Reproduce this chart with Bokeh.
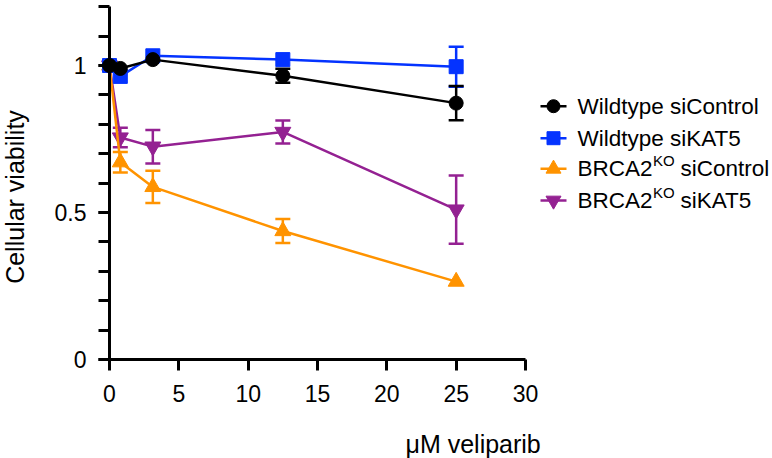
import math
from bokeh.plotting import figure
from bokeh.models import (ColumnDataSource, Range1d, FixedTicker, Whisker, TeeHead,
                          LinearAxis)
from bokeh.core.properties import value
from bokeh.embed import file_html
from bokeh.resources import INLINE

# ---------------- data ----------------
dose = [0, 0.78, 3.125, 12.5, 25]

wt_sicontrol = [1.00, 0.99, 1.02, 0.965, 0.872]
wt_sicontrol_err = [0.0, 0.0, 0.0, 0.024, 0.058]

wt_sikat5 = [1.00, 0.963, 1.033, 1.02, 0.996]
wt_sikat5_err = [0.0, 0.0, 0.0, 0.0, 0.068]

ko_sicontrol = [1.00, 0.671, 0.587, 0.437, 0.265]
ko_sicontrol_err = [0.0, 0.035, 0.055, 0.041, 0.0]

ko_sikat5 = [1.00, 0.755, 0.724, 0.774, 0.51]
ko_sikat5_err = [0.0, 0.033, 0.057, 0.039, 0.116]

series_base = ["Wildtype", "Wildtype", "BRCA2", "BRCA2"]
series_sup = ["", "", "KO", "KO"]
series_tail = ["siControl", "siKAT5", "siControl", "siKAT5"]

x_ticks = [0, 5, 10, 15, 20, 25, 30]
y_ticks = [0, 0.5, 1.0]
y_tick_labels = ["0", "0.5", "1"]
y_minor_ticks = [0, 0.1, 0.2, 0.3, 0.4, 0.5, 0.6, 0.7, 0.8, 0.9, 1.0, 1.1, 1.2]

x_title = "\u03bcM veliparib"
y_title = "Cellular viability"

# ---------------- style / layout ----------------
FONT = "Liberation Sans"
colors = ["#000000", "#0433FF", "#FF9300", "#942192"]
markers = ["circle", "square", "triangle", "inverted_triangle"]
msizes = [14, 14, 16, 16]
LW = 2.5

W, H = 772, 458
X0_PX, Y0_PX = 109, 359          # pixel position of the data origin
K = 416 / 30.0                    # pixels per x unit
KY = 294.0                        # pixels per y unit


def dx(px):
    return (px - X0_PX) / K


def dy(py):
    return (Y0_PX - py) / KY


p = figure(width=W, height=H,
           x_range=Range1d(dx(0), dx(W)),
           y_range=Range1d(dy(H), dy(0)),
           x_axis_location=None, y_axis_location=None,
           output_backend="svg", toolbar_location=None,
           min_border_left=0, min_border_right=0,
           min_border_top=0, min_border_bottom=0)
p.outline_line_color = None
p.xgrid.visible = False
p.ygrid.visible = False
p.background_fill_color = "white"
p.border_fill_color = "white"


def style_axis(ax):
    ax.axis_line_width = 3
    ax.axis_line_color = "black"
    ax.major_tick_line_width = 3
    ax.minor_tick_line_width = 3
    ax.major_tick_line_color = "black"
    ax.minor_tick_line_color = "black"
    ax.major_tick_out = 11
    ax.major_tick_in = 0
    ax.minor_tick_out = 11
    ax.minor_tick_in = 0
    ax.major_label_text_font = FONT
    ax.major_label_text_font_size = "23px"
    ax.major_label_text_color = "black"


xa = LinearAxis(fixed_location=0, bounds=(0, 30), ticker=FixedTicker(ticks=x_ticks))
style_axis(xa)
xa.major_label_standoff = 14
p.add_layout(xa, "below")

ya = LinearAxis(fixed_location=0, bounds=(0, 1.2),
                ticker=FixedTicker(ticks=y_ticks, minor_ticks=y_minor_ticks))
style_axis(ya)
ya.major_label_overrides = {t: l for t, l in zip(y_ticks, y_tick_labels)}
ya.major_label_standoff = 12
p.add_layout(ya, "left")

# axis titles
p.text(x=[dx(14.5)], y=[dy(196.5)], text=[y_title], angle=math.pi / 2,
       text_font=value(FONT), text_font_size="25px", text_color="black",
       text_align="center", text_baseline="middle")
p.text(x=[dx(405)], y=[dy(443)], text=[x_title],
       text_font=value(FONT), text_font_size="25px", text_color="black",
       text_align="left", text_baseline="middle")

# ---------------- series ----------------
all_vals = [wt_sicontrol, wt_sikat5, ko_sicontrol, ko_sikat5]
all_errs = [wt_sicontrol_err, wt_sikat5_err, ko_sicontrol_err, ko_sikat5_err]

for i in [3, 2, 1, 0]:
    vals, errs, c = all_vals[i], all_errs[i], colors[i]
    src = ColumnDataSource(dict(x=dose, y=vals))
    xs = [d for d, e in zip(dose, errs) if e > 0]
    up = [v + e for v, e in zip(vals, errs) if e > 0]
    lo = [v - e for v, e in zip(vals, errs) if e > 0]
    wsrc = ColumnDataSource(dict(base=xs, upper=up, lower=lo))
    w = Whisker(base="base", upper="upper", lower="lower", source=wsrc,
                dimension="height", line_color=c, line_width=LW, level="underlay",
                upper_head=TeeHead(size=15, line_color=c, line_width=LW),
                lower_head=TeeHead(size=15, line_color=c, line_width=LW))
    p.add_layout(w)
    p.line("x", "y", source=src, line_color=c, line_width=LW)
    p.scatter("x", "y", source=src, marker=markers[i], size=msizes[i],
              fill_color=c, line_color=c)

# ---------------- legend ----------------
LFS = 22.5
row_py = [105.7, 137.7, 168.3, 200.0]
brca_w = 3.334 * LFS
for i in range(4):
    c = colors[i]
    yy = dy(row_py[i])
    p.segment(x0=[dx(540)], y0=[yy], x1=[dx(566)], y1=[yy], line_color=c, line_width=LW)
    p.scatter(x=[dx(553)], y=[yy], marker=markers[i], size=msizes[i] - 1,
              fill_color=c, line_color=c)
    if series_sup[i]:
        p.text(x=[dx(577)], y=[yy], text=[series_base[i]], text_font=value(FONT),
               text_font_size=f"{LFS}px", text_color="black", text_baseline="middle")
        p.text(x=[dx(577 + brca_w + 0.5)], y=[yy + 8 / KY], text=[series_sup[i]],
               text_font=value(FONT), text_font_size="15px", text_color="black",
               text_baseline="middle")
        p.text(x=[dx(577 + brca_w + 28)], y=[yy], text=[series_tail[i]],
               text_font=value(FONT), text_font_size=f"{LFS}px", text_color="black",
               text_baseline="middle")
    else:
        p.text(x=[dx(577)], y=[yy], text=[series_base[i] + " " + series_tail[i]],
               text_font=value(FONT), text_font_size=f"{LFS}px", text_color="black",
               text_baseline="middle")

open("out.html", "w").write(file_html(p, INLINE))
